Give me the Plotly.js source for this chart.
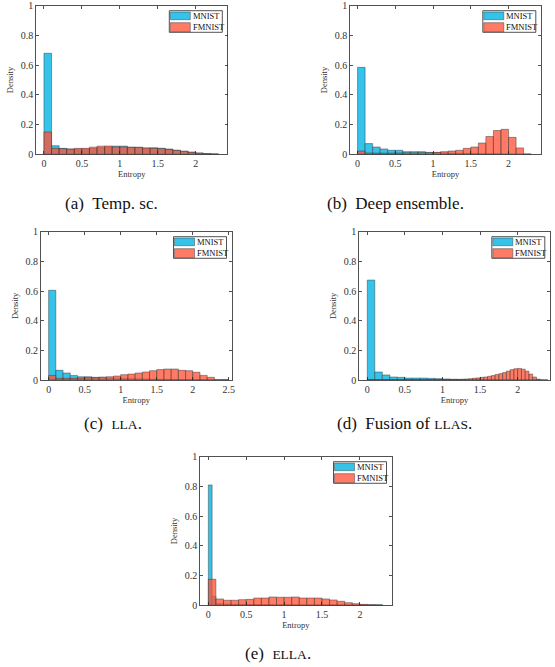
<!DOCTYPE html>
<html>
<head>
<meta charset="utf-8">
<script src="https://cdn.plot.ly/plotly-3.0.1.min.js"></script>
<style>html,body{margin:0;padding:0;background:#fff;}#chart{width:555px;height:667px;}</style>
</head>
<body>
<div id="chart"></div>
<script>
// ---------- data (densities) ----------
const seriesNames = ['MNIST', 'FMNIST'];
const xTicksA = [0, 0.5, 1, 1.5, 2];
const xTicksC = [0, 0.5, 1, 1.5, 2, 2.5];
const yTicks = [0, 0.2, 0.4, 0.6, 0.8, 1];

// (a) Temp. sc. — bin width 0.1
const aBinWidth = [0.1, 0.1];
const aMnist  = [0.68,0.058,0.040,0.036,0.034,0.034,0.040,0.045,0.048,0.055,0.055,0.048,0.047,0.042,0.044,0.041,0.036,0.028,0.021,0.015,0.009,0.005,0.003];
const aFmnist = [0.15,0.040,0.038,0.035,0.040,0.040,0.048,0.055,0.056,0.050,0.050,0.047,0.047,0.043,0.040,0.038,0.032,0.026,0.020,0.013,0.008,0.003,0.000];

// (b) Deep ensemble — bin width 0.1
const bBinWidth = [0.1, 0.1];
const bMnist  = [0.585,0.072,0.049,0.036,0.027,0.027,0.018,0.018,0.018,0.013,0.012,0.010,0.008,0.007,0.006,0.005,0.004,0.003,0.003,0.002,0.002,0.001,0.002];
const bFmnist = [0.022,0.009,0.008,0.008,0.008,0.009,0.010,0.010,0.011,0.011,0.013,0.018,0.022,0.027,0.040,0.049,0.076,0.120,0.160,0.168,0.114,0.043,0.000];

// (c) LLA — bin width 0.1
const cBinWidth = [0.1, 0.1];
const cMnist  = [0.605,0.065,0.047,0.031,0.022,0.022,0.018,0.016,0.014,0.012,0.010,0.009,0.008,0.007,0.006,0.005,0.004,0.004,0.003,0.003,0.002,0.002,0.001,0.001,0.002];
const cFmnist = [0.031,0.011,0.011,0.011,0.013,0.015,0.016,0.020,0.022,0.027,0.036,0.040,0.047,0.054,0.063,0.070,0.074,0.074,0.065,0.063,0.052,0.031,0.018,0.000,0.000];

// (d) Fusion of LLAs — MNIST bin width 0.1, FMNIST bin width 0.05
const dBinWidth = [0.1, 0.05];
const dMnist  = [0.674,0.054,0.034,0.020,0.018,0.013,0.013,0.013,0.011,0.009,0.007,0.005,0.004,0.003,0.003,0.002,0.002,0.002,0.001,0.001,0.001,0.001,0.001,0.002];
const dFmnist = [0.003,0.002,0.002,0.002,0.002,0.002,0.002,0.002,0.002,0.002,0.002,0.002,0.002,0.002,0.002,0.002,0.002,0.002,0.002,0.003,0.003,0.003,
                 0.003,0.004,0.004,0.005,0.007,0.009,0.012,0.014,0.018,0.020,0.025,0.030,0.037,0.043,0.050,0.060,0.070,0.076,0.078,0.073,0.060,0.040,0.020,0.006];

// (e) ELLA — MNIST bin width 0.05, FMNIST bin width 0.1
const eBinWidth = [0.05, 0.1];
const eMnist  = [0.81,0.06,0.012,0.010,0.009,0.008,0.007,0.007,0.006,0.006,0.006,0.005,0.005,0.005,0.005,0.005,0.004,0.004,0.004,0.004,0.004,0.004,0.004,0.003,
                 0.003,0.003,0.003,0.003,0.003,0.003,0.003,0.003,0.003,0.003,0.003,0.003,0.003,0.003,0.003,0.003,0.003,0.003,0.003,0.003,0.003,0.003];
const eFmnist = [0.175,0.043,0.034,0.034,0.038,0.040,0.049,0.049,0.056,0.054,0.054,0.056,0.049,0.049,0.049,0.043,0.036,0.027,0.018,0.011,0.006,0.003,0.001];

const sc = s => '<span style="font-size:13.5px">' + s + '</span>';
const captions = ['(a)\u00a0\u00a0Temp. sc.', '(b)\u00a0\u00a0Deep ensemble.', '(c)\u00a0\u00a0' + sc('LLA') + '.',
                  '(d)\u00a0\u00a0Fusion of ' + sc('LLAS') + '.', '(e)\u00a0\u00a0' + sc('ELLA') + '.'];

// ---------- layout geometry (pixels) ----------
const W = 555, H = 667;
const panels = [
  {mn:aMnist, fm:aFmnist, bw:aBinWidth, x0:36,  x1:227.5, y0:5.7,   y1:154.3, xr:[-0.105,2.42], xt:xTicksA, cap:{x:63, y:203}},
  {mn:bMnist, fm:bFmnist, bw:bBinWidth, x0:350, x1:541,   y0:5.7,   y1:154.3, xr:[-0.10,2.43],  xt:xTicksA, cap:{x:325, y:203}},
  {mn:cMnist, fm:cFmnist, bw:cBinWidth, x0:40.7,x1:231.7, y0:231.7, y1:380,   xr:[-0.11,2.54],  xt:xTicksC, cap:{x:82, y:423}},
  {mn:dMnist, fm:dFmnist, bw:dBinWidth, x0:359, x1:550,   y0:231.7, y1:380,   xr:[-0.11,2.43],  xt:xTicksA, cap:{x:335, y:423}},
  {mn:eMnist, fm:eFmnist, bw:eBinWidth, x0:200, x1:391.7, y0:456.7, y1:605.3, xr:[-0.11,2.42],  xt:xTicksA, cap:{x:243, y:653}}
];

const mnistColor = '#35C3EA';
const fmnistColor = 'rgba(255,82,52,0.76)';
const edgeColor = 'rgba(50,50,50,0.75)';
const axisColor = '#262626';
const serif = "'Liberation Serif', 'Times New Roman', Times, serif";

const px = v => v / W;
const py = v => 1 - v / H;

const traces = [];
const layout = {
  width: W, height: H,
  margin: {l:0, r:0, t:0, b:0},
  paper_bgcolor: '#fff', plot_bgcolor: '#fff',
  showlegend: false,
  barmode: 'overlay',
  bargap: 0,
  font: {family: serif, color: axisColor},
  shapes: [], annotations: []
};

function centers(vals, w) { return vals.map((_, i) => (i + 0.5) * w); }

panels.forEach((p, k) => {
  const n = k === 0 ? '' : String(k + 1);
  const xa = 'x' + n, ya = 'y' + n;
  [[p.mn, p.bw[0], mnistColor, seriesNames[0]], [p.fm, p.bw[1], fmnistColor, seriesNames[1]]].forEach(s => {
    traces.push({
      type: 'bar', name: s[3], x: centers(s[0], s[1]), y: s[0], width: s[1],
      xaxis: xa, yaxis: ya,
      marker: {color: s[2], line: {color: edgeColor, width: 0.6}},
      hoverinfo: 'x+y'
    });
  });
  const axCommon = {
    showline: true, linecolor: axisColor, linewidth: 0.8, mirror: 'ticks',
    ticks: 'inside', ticklen: 3, tickwidth: 0.8, tickcolor: axisColor,
    showgrid: false, zeroline: false, fixedrange: true,
    tickfont: {family: serif, size: 10, color: '#333'}
  };
  layout['xaxis' + n] = Object.assign({}, axCommon, {
    domain: [px(p.x0), px(p.x1)], range: p.xr, anchor: ya,
    tickvals: p.xt, ticktext: p.xt.map(String),
    title: {text: 'Entropy', font: {family: serif, size: 8.5, color: '#333'}, standoff: 2}
  });
  layout['yaxis' + n] = Object.assign({}, axCommon, {
    domain: [py(p.y1), py(p.y0)], range: [0, 1], anchor: xa,
    tickvals: yTicks, ticktext: yTicks.map(String),
    title: {text: 'Density', font: {family: serif, size: 8.5, color: '#333'}, standoff: 5}
  });
  // legend box drawn in the corner of each panel
  const L = p.x1 - 58.2, R = p.x1 - 5.2, T = p.y0 + 5, B = p.y0 + 26.6;
  layout.shapes.push({type:'rect', xref:'paper', yref:'paper', x0:px(L), x1:px(R), y0:py(B), y1:py(T),
    line:{color:axisColor, width:0.8}, fillcolor:'#fff', layer:'above'});
  layout.shapes.push({type:'rect', xref:'paper', yref:'paper', x0:px(L+1), x1:px(L+21), y0:py(T+9), y1:py(T+1.3),
    line:{color:edgeColor, width:0.6}, fillcolor:mnistColor, layer:'above'});
  layout.shapes.push({type:'rect', xref:'paper', yref:'paper', x0:px(L+1), x1:px(L+21), y0:py(T+21), y1:py(T+12),
    line:{color:edgeColor, width:0.6}, fillcolor:fmnistColor, layer:'above'});
  [[seriesNames[0], T+5.2], [seriesNames[1], T+16.5]].forEach(t => {
    layout.annotations.push({xref:'paper', yref:'paper', x:px(L+21.5), y:py(t[1]), xanchor:'left', yanchor:'middle',
      text:t[0], showarrow:false, font:{family:serif, size:8.5, color:'#111'}});
  });
  layout.annotations.push({xref:'paper', yref:'paper', x:px(p.cap.x), y:py(p.cap.y), xanchor:'left', yanchor:'middle',
    text:captions[k], showarrow:false, font:{family:serif, size:17, color:'#111'}});
});

Plotly.newPlot('chart', traces, layout, {staticPlot: true, displayModeBar: false});
</script>
</body>
</html>
